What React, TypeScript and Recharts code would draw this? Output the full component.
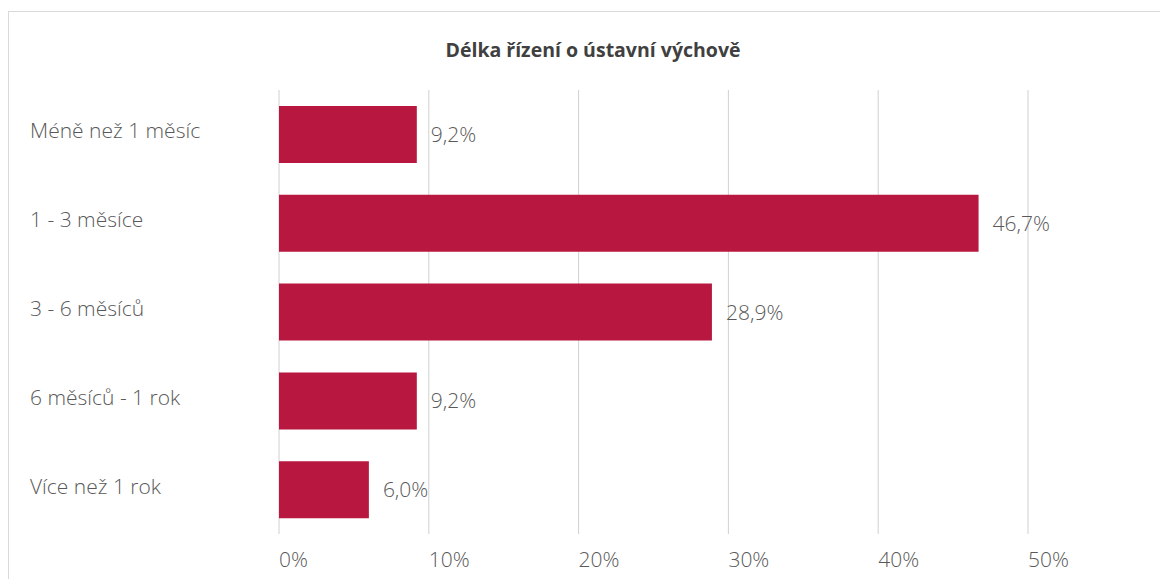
import React from 'react';
import { BarChart, Bar, XAxis, YAxis, CartesianGrid, LabelList } from 'recharts';

const categories = ['Méně než 1 měsíc', '1 - 3 měsíce', '3 - 6 měsíců', '6 měsíců - 1 rok', 'Více než 1 rok'];
const shares = [9.2, 46.7, 28.9, 9.2, 6.0];
const xTicks = [0, 10, 20, 30, 40, 50];

const data = categories.map((name, i) => ({ name, value: shares[i] }));

const FONT = '"Open Sans", sans-serif';
const TEXT = '#595959';

const fmtPct = (v: number) => `${v.toFixed(1).replace('.', ',')}%`;

const YTick = (props: any) => {
  const { y, payload } = props;
  return (
    <text x={21} y={y} dy={4} textAnchor="start" fill={TEXT} fontSize={21} fontWeight={300} fontFamily={FONT}>
      {payload.value}
    </text>
  );
};

const XTick = (props: any) => {
  const { x, y, payload } = props;
  return (
    <text x={x} y={y} dy={25} textAnchor="start" fill={TEXT} fontSize={21} fontWeight={300} fontFamily={FONT}>
      {`${payload.value}%`}
    </text>
  );
};

export default function App() {
  return (
    <div
      style={{
        position: 'relative',
        marginTop: 3,
        width: 1170,
        height: 580,
        border: '1px solid #d9d9d9',
        background: '#fff',
        fontFamily: FONT,
      }}
    >
      <div
        style={{
          position: 'absolute',
          top: 24,
          left: 0,
          width: 1170,
          textAlign: 'center',
          fontSize: 19.5,
          fontWeight: 700,
          color: '#404040',
        }}
      >
        <span style={{ position: 'relative', left: -1 }}>Délka řízení o ústavní výchově</span>
      </div>
      <BarChart
        width={1150}
        height={567}
        data={data}
        layout="vertical"
        margin={{ top: 78, right: 131, bottom: 0, left: 0 }}
        barSize={57}
      >
        <CartesianGrid horizontal={false} stroke="#d0d0d0" strokeWidth={1} />
        <XAxis
          type="number"
          domain={[0, 50]}
          ticks={xTicks}
          axisLine={false}
          tickLine={false}
          tick={<XTick />}
          height={45}
          interval={0}
        />
        <YAxis
          type="category"
          dataKey="name"
          width={270}
          axisLine={false}
          tickLine={false}
          tick={<YTick />}
        />
        <Bar dataKey="value" fill="#b8173f" isAnimationActive={false}>
          <LabelList
            dataKey="value"
            position="right"
            offset={14}
            formatter={(v: any) => fmtPct(Number(v))}
            fill={TEXT}
            fontSize={21}
            fontWeight={300}
            fontFamily={FONT}
          />
        </Bar>
      </BarChart>
    </div>
  );
}
